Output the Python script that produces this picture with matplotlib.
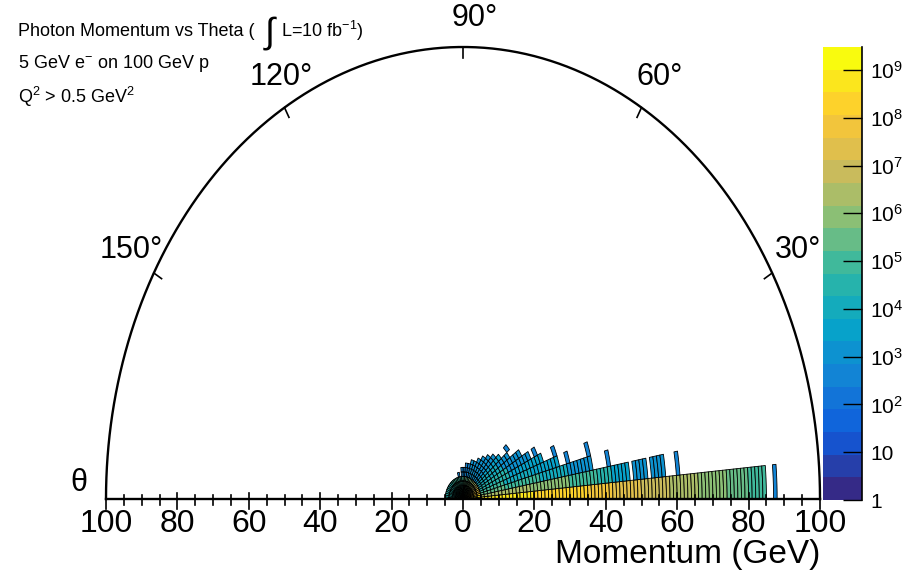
import numpy as np
import matplotlib
matplotlib.use("Agg")
import matplotlib.pyplot as plt
from matplotlib.collections import PolyCollection
from matplotlib.colors import ListedColormap, BoundaryNorm, LinearSegmentedColormap

plt.rcParams['font.family'] = ['Liberation Sans', 'DejaVu Sans']
plt.rcParams['mathtext.fontset'] = 'custom'
plt.rcParams['mathtext.rm'] = 'Liberation Sans'
plt.rcParams['mathtext.it'] = 'Liberation Sans'

# binning: 1 GeV momentum bins, 5 degree theta bins
p_bin = 1.0
theta_bin = 5.0
n_theta = 36

# log10(counts) of the p < 5 GeV cells, one value per theta row (0-5, 5-10, ... deg)
blob_logc = [9.2, 8.8, 8.4, 8.0, 7.6, 7.3, 7.0, 6.8, 6.6, 6.4, 6.2, 6.0,
             5.8, 5.7, 5.6, 5.5, 5.4, 5.3, 5.2, 5.1, 5.0, 5.0, 4.9, 4.9,
             4.8, 4.8, 4.7, 4.7, 4.6, 4.6, 4.5, 4.5, 4.4, 4.4, 4.3, 4.3]

# runs of filled cells above 5 GeV: theta row, p start, p stop, log10(counts)
run_row = [0, 0, 0, 0, 0, 0, 0, 0, 0, 0,
           1, 1, 1, 1, 1, 1, 1, 1,
           2, 2, 2, 2, 2,
           3, 3, 3, 3, 3,
           4, 4, 4,
           5, 5, 5,
           6, 6, 7, 7, 8, 8, 9, 10, 11, 12, 13, 14, 15, 16, 17, 18, 20]
run_p0 = [5, 20, 35, 42, 50, 58, 66, 74, 80, 87,
          5, 19, 30, 38, 42, 48, 53, 60,
          5, 12, 22, 30, 41,
          5, 12, 20, 30, 36,
          5, 14, 27,
          5, 14, 22,
          5, 13, 5, 12, 5, 16, 5, 5, 5, 5, 5, 5, 5, 5, 5, 5, 5]
run_p1 = [20, 35, 42, 50, 58, 66, 74, 80, 85, 88,
          19, 30, 38, 42, 47, 52, 57, 61,
          12, 22, 30, 37, 42,
          12, 20, 28, 31, 37,
          14, 24, 28,
          14, 21, 23,
          13, 19, 12, 16, 14, 17, 13, 12, 11, 10, 9, 9, 8, 8, 7, 7, 6]
run_logc = [8.8, 8.5, 8.0, 7.4, 6.9, 6.3, 5.9, 5.4, 5.0, 2.8,
            6.6, 6.0, 5.2, 4.4, 3.6, 3.0, 3.0, 2.8,
            5.6, 4.8, 4.0, 3.3, 2.8,
            5.0, 4.2, 3.4, 2.8, 2.8,
            4.6, 3.6, 2.8,
            4.3, 3.3, 2.8,
            4.0, 3.0, 3.8, 2.9, 3.6, 2.8, 3.3, 3.2, 3.0, 3.0, 2.9, 2.9, 2.8, 2.8, 2.8, 2.8, 2.8]

z_max = 9.48
cb_labels = ['1', '10', '10$^{2}$', '10$^{3}$', '10$^{4}$', '10$^{5}$',
             '10$^{6}$', '10$^{7}$', '10$^{8}$', '10$^{9}$']
angle_labels = [30, 60, 90, 120, 150]
mom_ticks = [-100, -80, -60, -40, -20, 0, 20, 40, 60, 80, 100]

# ROOT kBird palette, 20 contour levels
bird = LinearSegmentedColormap.from_list('bird', [
    (0.2082, 0.1664, 0.5293), (0.0592, 0.3599, 0.8684), (0.0780, 0.5041, 0.8385),
    (0.0232, 0.6419, 0.7914), (0.1802, 0.7178, 0.6425), (0.5301, 0.7492, 0.4662),
    (0.8186, 0.7328, 0.3499), (0.9956, 0.7862, 0.1968), (0.9764, 0.9832, 0.0539)])
n_lev = 20
cmap = ListedColormap([bird(i / (n_lev - 1)) for i in range(n_lev)])
levels = np.linspace(0, z_max, n_lev + 1)
norm = BoundaryNorm(levels, n_lev)


def cell(p0, p1, t0, t1):
    t = np.radians(np.linspace(t0, t1, 6))
    xs = np.concatenate([p0 * np.cos(t), p1 * np.cos(t[::-1])])
    ys = np.concatenate([p0 * np.sin(t), p1 * np.sin(t[::-1])])
    return np.column_stack([xs, ys])


polys, vals = [], []
for k in range(n_theta):
    for i in range(5):
        polys.append(cell(i * p_bin, (i + 1) * p_bin, k * theta_bin, (k + 1) * theta_bin))
        vals.append(blob_logc[k])
for r, a, b, v in zip(run_row, run_p0, run_p1, run_logc):
    for i in range(a, b):
        polys.append(cell(i, i + p_bin, r * theta_bin, (r + 1) * theta_bin))
        vals.append(v)

fig = plt.figure(figsize=(9.09, 5.77), dpi=100)
ax = fig.add_axes([106 / 909, 78 / 577, 714 / 909, 452 / 577])
ax.set_xlim(-100, 100)
ax.set_ylim(0, 100)
ax.axis('off')

pc = PolyCollection(polys, array=np.array(vals), cmap=cmap, norm=norm,
                    edgecolors='black', linewidths=0.6)
ax.add_collection(pc)

# half ellipse frame
t = np.linspace(0, np.pi, 400)
ax.plot(100 * np.cos(t), 100 * np.sin(t), color='black', lw=1.7, clip_on=False)
ax.plot([-100, 100], [0, 0], color='black', lw=1.7, clip_on=False)

# momentum ticks
px_y = 100 / 452
for v in range(-100, 101, 5):
    major = v % 20 == 0
    up, down = (6, 10) if major else (4, 6)
    ax.plot([v, v], [up * px_y, -down * px_y], color='black', lw=1.2, clip_on=False)
for v in mom_ticks:
    ax.text(v, -25 * px_y, str(abs(v)), ha='center', va='center', fontsize=23)
ax.text(100, -56 * px_y, 'Momentum (GeV)', ha='right', va='center', fontsize=24)


def fig_xy(x, y):
    return x / 909, 1 - y / 577


fig.text(*fig_xy(87, 483), '\u03b8', ha='right', va='center', fontsize=22)

# angle ticks and labels (label positions in pixels, left edge / centre)
label_px = {90: (452, 18), 60: (636, 77), 120: (250, 77), 150: (100, 250), 30: (775, 250)}
for a in angle_labels:
    ra = np.radians(a)
    ax.plot([100 * np.cos(ra), 97.5 * np.cos(ra)], [100 * np.sin(ra), 97.5 * np.sin(ra)],
            color='black', lw=1.2, clip_on=False)
    lx, ly = label_px[a]
    fig.text(*fig_xy(lx, ly), '%d\u00b0' % a, ha='left', va='center', fontsize=22)

# header text
fig.text(*fig_xy(18, 31), 'Photon Momentum vs Theta (', fontsize=13, va='center')
fig.text(*fig_xy(265, 33), '\u222b', fontsize=26, va='center')
fig.text(*fig_xy(281, 31), r'L=10 fb$^{-1}$)', fontsize=13, va='center')
fig.text(*fig_xy(18, 63), r'5 GeV e$^{-}$ on 100 GeV p', fontsize=13, va='center')
fig.text(*fig_xy(18, 97), r'Q$^{2}$ > 0.5 GeV$^{2}$', fontsize=13, va='center')

# colour bar
cax = fig.add_axes([823 / 909, 77 / 577, 39 / 909, 453 / 577])
cax.pcolormesh([0, 1], 10 ** levels, np.arange(n_lev).reshape(-1, 1) + 0.5,
               cmap=cmap, vmin=0, vmax=n_lev)
cax.set_yscale('log')
cax.set_ylim(1, 10 ** z_max)
cax.set_xlim(0, 1)
cax.yaxis.tick_right()
cax.set_xticks([])
cax.set_yticks([10 ** i for i in range(10)])
cax.set_yticklabels(cb_labels)
cax.tick_params(axis='y', which='major', direction='in', length=14, width=1, labelsize=15, pad=6)
cax.tick_params(axis='y', which='minor', direction='in', length=7, width=1)
for s in ['left', 'top', 'bottom']:
    cax.spines[s].set_visible(False)
cax.spines['right'].set_linewidth(1.2)

fig.savefig('out.png', dpi=100)
